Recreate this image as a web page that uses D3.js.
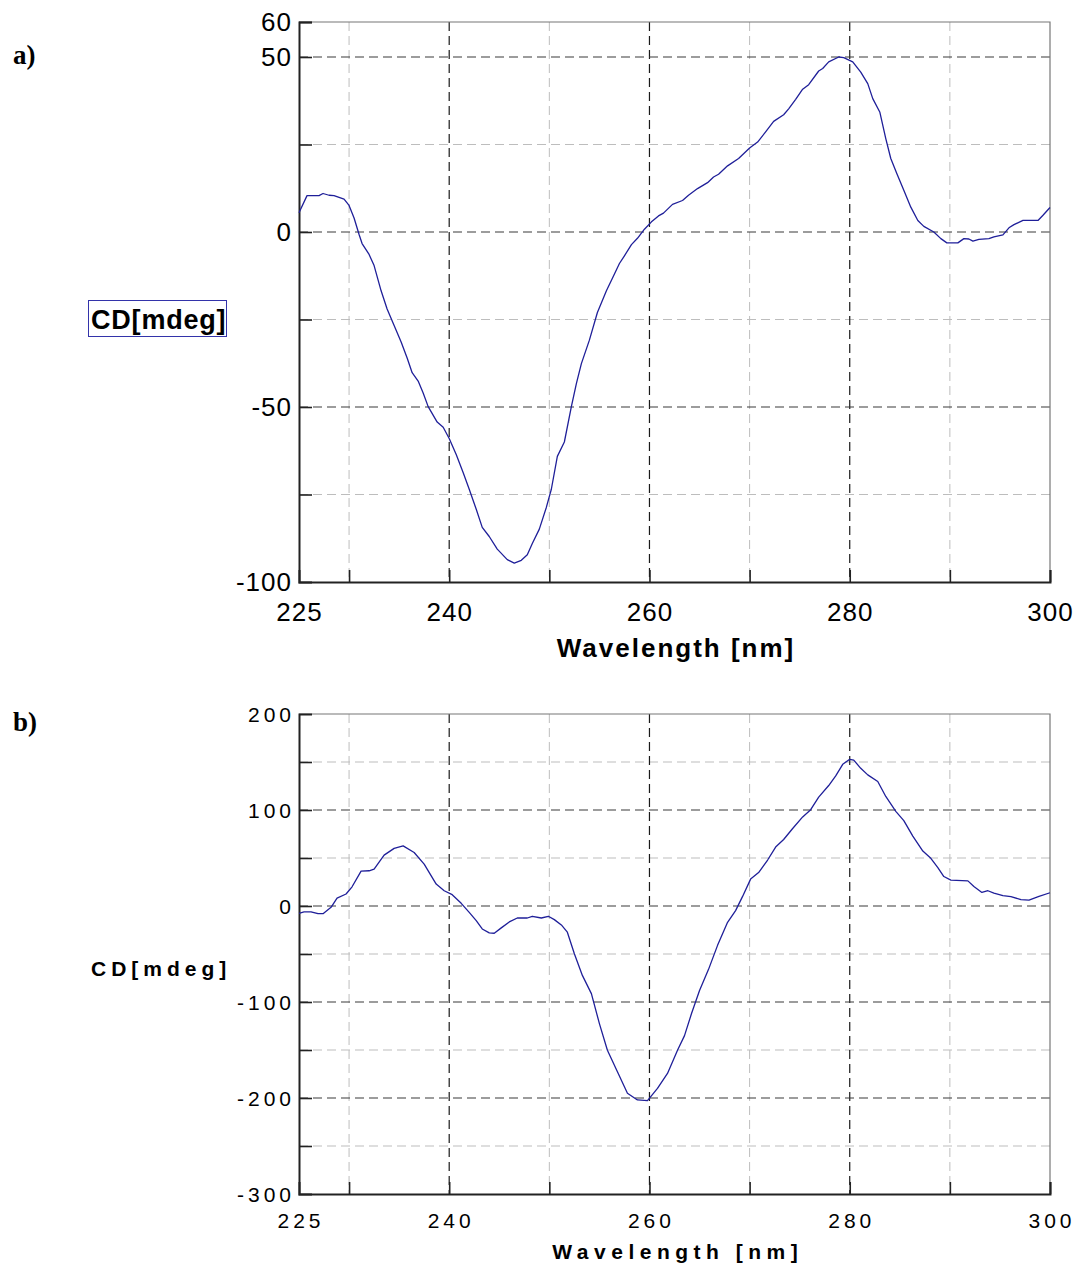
<!DOCTYPE html>
<html>
<head>
<meta charset="utf-8">
<script src="https://cdn.jsdelivr.net/npm/d3@7/dist/d3.min.js"></script>
<style>
  html, body { margin: 0; padding: 0; background: #fff; }
  svg { display: block; }
  text { font-family: "Liberation Sans", Arial, sans-serif; fill: #000; }
</style>
</head>
<body>
<svg id="chart" width="1079" height="1267"></svg>
<script>
// Panel a: CD spectrum, wavelength (nm) and ellipticity (mdeg)
const wlA = [225.0,225.8,227.0,227.4,228.0,228.5,229.5,230.0,230.5,231.0,231.3,232.0,232.5,233.2,233.8,234.5,235.2,235.8,236.3,236.9,237.4,237.9,238.8,239.4,240.0,240.7,241.4,242.0,242.7,243.3,244.0,244.8,245.8,246.5,247.2,247.8,248.3,249.0,249.7,250.2,250.8,251.5,252.2,252.7,253.2,254.0,254.8,255.7,256.3,257.0,257.5,258.2,258.8,259.5,260.2,260.9,261.4,262.3,263.3,263.9,264.8,265.8,266.4,266.9,267.8,268.9,270.0,270.8,271.6,272.4,273.4,273.9,274.6,275.3,275.9,276.9,277.3,277.9,278.9,279.4,280.3,281.1,281.8,282.3,283.0,283.6,284.1,284.7,285.4,286.1,286.8,287.4,288.4,289.1,289.7,290.8,291.4,291.9,292.3,292.9,293.9,294.4,295.3,295.9,296.4,297.3,298.8,299.3,300.0];
const cdA = [5.5,10.4,10.4,11.0,10.5,10.4,9.4,7.6,4.0,-0.7,-3.3,-6.4,-9.6,-16.8,-22.0,-26.7,-31.4,-36.0,-40.2,-42.6,-46.0,-49.9,-54.3,-55.8,-59.0,-63.6,-68.8,-73.5,-79.2,-84.4,-87.0,-90.6,-93.6,-94.6,-93.8,-92.2,-89.0,-84.9,-78.7,-73.5,-64.1,-60.0,-49.9,-43.3,-37.6,-30.9,-23.0,-16.8,-13.2,-9.0,-6.8,-3.6,-1.8,0.8,2.9,4.6,5.4,7.9,9.0,10.5,12.4,14.1,15.7,16.5,18.9,21.0,24.0,25.7,28.6,31.6,33.5,35.2,37.9,40.8,42.1,46.0,46.7,48.6,50.0,49.8,48.6,45.7,42.4,38.1,34.3,26.7,21.0,16.7,11.9,7.1,3.3,1.6,0.0,-1.9,-3.1,-3.1,-1.9,-2.0,-2.6,-2.1,-1.9,-1.4,-0.8,1.2,2.1,3.3,3.3,4.8,7.0];

// Panel b: CD spectrum
const wlB = [225.0,225.5,226.2,226.9,227.4,228.2,228.8,229.7,230.3,231.2,232.0,232.5,233.5,234.5,235.4,236.5,237.5,238.7,239.5,240.3,241.2,242.0,242.7,243.3,244.0,244.5,245.2,246.0,246.8,247.8,248.3,249.2,249.9,250.5,251.2,251.8,252.5,253.3,254.2,255.0,255.8,256.8,257.8,258.8,259.8,260.8,261.8,262.8,263.5,264.2,265.0,265.9,266.8,267.8,268.6,269.3,270.1,270.9,271.8,272.6,273.4,274.3,275.3,276.1,276.9,277.9,278.6,279.3,280.0,280.4,281.1,281.8,282.8,283.6,284.6,285.4,286.3,287.3,288.1,288.8,289.4,290.1,291.8,292.4,293.2,293.8,294.4,295.3,296.1,297.1,297.9,298.9,300.0];
const cdB = [-7.6,-6.2,-6.2,-8.0,-8.0,-1.4,8.3,12.5,20.0,36.3,36.7,38.4,53.0,60.0,62.6,55.7,43.6,22.8,15.9,11.8,2.8,-6.6,-15.2,-23.9,-28.0,-28.4,-22.8,-16.6,-12.5,-12.5,-10.7,-12.5,-10.7,-14.2,-19.7,-27.3,-49.8,-72.3,-91.3,-122.5,-150.2,-172.7,-195.0,-202.0,-202.8,-190.0,-174.4,-150.2,-135.0,-112.0,-88.0,-66.0,-41.0,-17.0,-4.8,10.0,28.0,34.8,47.9,61.4,69.3,80.7,92.8,100.3,113.4,125.5,135.5,147.6,152.8,152.0,143.4,136.6,129.7,114.1,98.6,89.0,72.8,57.2,49.7,40.0,30.7,26.9,26.2,20.3,14.1,15.9,13.4,10.7,9.7,6.6,6.2,10.0,13.8];

// Ticks and grid
const xMajor = [240, 260, 280];
const xMinor = [230, 250, 270, 290];
const xLabels = [225, 240, 260, 280, 300];
const yMajorA = [50, 0, -50];
const yMinorA = [25, -25, -75];
const yLabelsA = [60, 50, 0, -50, -100];
const yMajorB = [100, 0, -100, -200];
const yMinorB = [150, 50, -50, -150, -250];
const yLabelsB = [200, 100, 0, -100, -200, -300];

const svg = d3.select("#chart");

function panel(cfg) {
  const x = d3.scaleLinear().domain([225, 300]).range([299, 1050]);
  const y = d3.scaleLinear().domain(cfg.yDomain).range(cfg.yRange);
  const [yb, yt] = cfg.yRange;
  const g = svg.append("g");

  // minor grid
  g.selectAll(".vmin").data(xMinor).join("line")
    .attr("x1", d => x(d)).attr("x2", d => x(d)).attr("y1", yt).attr("y2", yb)
    .attr("stroke", "#bdbdbd").attr("stroke-width", 1).attr("stroke-dasharray", "9,5");
  g.selectAll(".hmin").data(cfg.yMinor).join("line")
    .attr("x1", 299).attr("x2", 1050).attr("y1", d => y(d)).attr("y2", d => y(d))
    .attr("stroke", "#bdbdbd").attr("stroke-width", 1).attr("stroke-dasharray", "9,5");
  // major grid
  g.selectAll(".vmaj").data(xMajor).join("line")
    .attr("x1", d => x(d)).attr("x2", d => x(d)).attr("y1", yt).attr("y2", yb)
    .attr("stroke", "#1a1a1a").attr("stroke-width", 1.2).attr("stroke-dasharray", "9,5");
  g.selectAll(".hmaj").data(cfg.yMajor).join("line")
    .attr("x1", 299).attr("x2", 1050).attr("y1", d => y(d)).attr("y2", d => y(d))
    .attr("stroke", "#3a3a3a").attr("stroke-width", 1.2).attr("stroke-dasharray", "9,5");

  // top and right frame
  g.append("path")
    .attr("d", `M299,${yt}H1050V${yb}`)
    .attr("fill", "none").attr("stroke", "#777").attr("stroke-width", 1.2);

  // axes with inward ticks
  const ax = g.append("g").attr("transform", `translate(0,${yb})`)
    .call(d3.axisBottom(x).tickValues([...xMinor, ...xMajor, 300]).tickSize(-12).tickFormat(""));
  const ay = g.append("g").attr("transform", "translate(299,0)")
    .call(d3.axisLeft(y).tickValues(cfg.yTicks).tickSize(-13).tickFormat(""));
  [ax, ay].forEach(a => {
    a.selectAll("path.domain").attr("stroke", "#222").attr("stroke-width", 2);
    a.selectAll(".tick line").attr("stroke", "#222").attr("stroke-width", 1.6);
  });

  // curve
  const pts = cfg.wl.map((w, i) => [w, cfg.cd[i]]);
  g.append("path").datum(pts)
    .attr("d", d3.line().x(d => x(d[0])).y(d => y(d[1])))
    .attr("fill", "none").attr("stroke", "#1f1f99").attr("stroke-width", 1.3)
    .attr("stroke-linejoin", "round");

  // tick labels
  const ls = cfg.ls;
  g.selectAll(".yl").data(cfg.yLabels).join("text")
    .attr("x", 291 + ls).attr("y", d => y(d)).attr("dy", "0.36em")
    .attr("text-anchor", "end")
    .style("font-size", cfg.tickFont + "px").style("letter-spacing", ls + "px")
    .text(d => d);
  g.selectAll(".xl").data(xLabels).join("text")
    .attr("x", d => x(d) + ls / 2).attr("y", cfg.xLabelBase)
    .attr("text-anchor", "middle")
    .style("font-size", cfg.tickFont + "px").style("letter-spacing", ls + "px")
    .text(d => d);

  // axis titles
  g.append("text")
    .attr("x", 675 + cfg.titleLs / 2).attr("y", cfg.titleBase)
    .attr("text-anchor", "middle")
    .style("font-size", cfg.titleFont + "px").style("font-weight", "bold")
    .style("letter-spacing", cfg.titleLs + "px")
    .text("Wavelength [nm]");
  g.append("text")
    .attr("x", cfg.yTitleX).attr("y", cfg.yTitleBase)
    .style("font-size", cfg.yTitleFont + "px").style("font-weight", "bold")
    .style("letter-spacing", cfg.yTitleLs + "px")
    .text("CD[mdeg]");

  // panel letter
  g.append("text")
    .attr("x", 13).attr("y", cfg.letterBase)
    .style("font-family", "'Liberation Serif', 'Times New Roman', serif")
    .style("font-size", "27px").style("font-weight", "bold")
    .text(cfg.letter);
  return g;
}

const ga = panel({
  yDomain: [-100, 60], yRange: [582, 22],
  yMajor: yMajorA, yMinor: yMinorA, yTicks: [60, 50, 25, 0, -25, -50, -75],
  yLabels: yLabelsA, wl: wlA, cd: cdA,
  tickFont: 26, ls: 1, xLabelBase: 621,
  titleFont: 26, titleLs: 2, titleBase: 657,
  yTitleX: 91, yTitleBase: 329, yTitleFont: 27, yTitleLs: 0.8,
  letter: "a)", letterBase: 64
});
// boxed y-axis title in panel a
ga.append("rect").attr("x", 88.5).attr("y", 300.5).attr("width", 138).attr("height", 36)
  .attr("fill", "none").attr("stroke", "#3333aa").attr("stroke-width", 1);

panel({
  yDomain: [-300, 200], yRange: [1194, 714],
  yMajor: yMajorB, yMinor: yMinorB, yTicks: [150, 100, 50, 0, -50, -100, -150, -200, -250],
  yLabels: yLabelsB, wl: wlB, cd: cdB,
  tickFont: 21, ls: 4, xLabelBase: 1228,
  titleFont: 21, titleLs: 5.5, titleBase: 1259,
  yTitleX: 91, yTitleBase: 976, yTitleFont: 21, yTitleLs: 5,
  letter: "b)", letterBase: 731
});
</script>
</body>
</html>
